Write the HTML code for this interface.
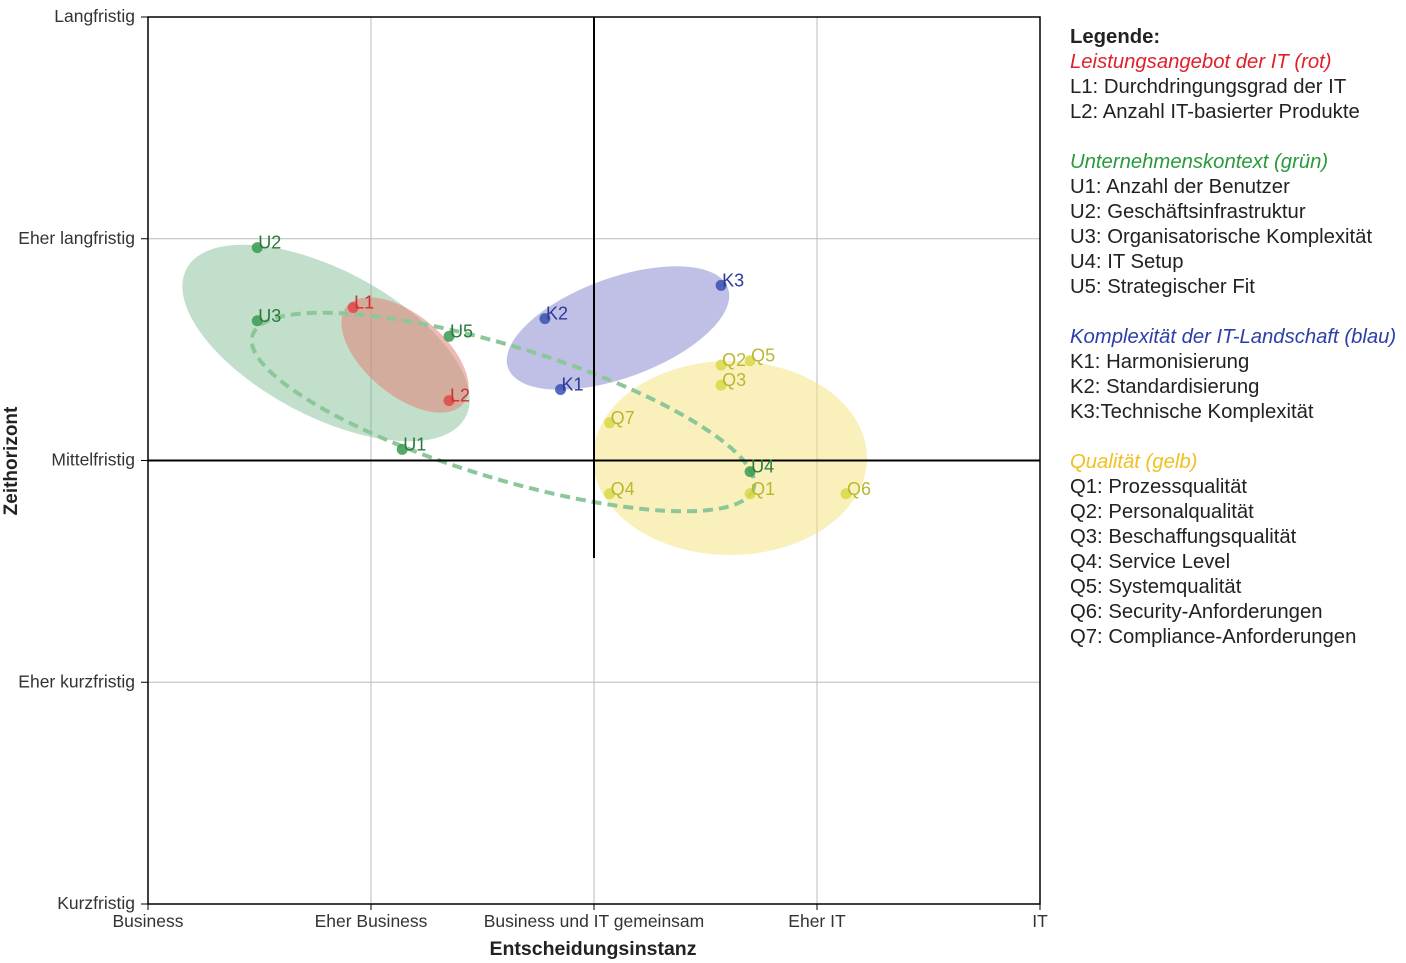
<!DOCTYPE html>
<html><head><meta charset="utf-8">
<style>
body{margin:0;background:#fff;width:1406px;height:963px;overflow:hidden;font-family:"Liberation Sans",sans-serif}
#legend{position:absolute;left:1070px;top:25px;font-size:20.3px;line-height:25px;color:#222}
#legend div{white-space:nowrap}
.gap{height:25px}
</style></head><body>
<svg id="chart" width="1406" height="963" style="position:absolute;left:0;top:0" font-family="Liberation Sans, sans-serif">
<g id="grid"></g>
<g id="shapes"></g>
<g id="axes"></g>
<g id="pts"></g>
</svg>
<div id="legend">
<div style="font-weight:bold">Legende:</div>
<div style="color:#e0202a;font-style:italic">Leistungsangebot der IT (rot)</div>
<div>L1: Durchdringungsgrad der IT</div>
<div>L2: Anzahl IT-basierter Produkte</div>
<div class="gap"></div>
<div style="color:#2a9a3a;font-style:italic">Unternehmenskontext (grün)</div>
<div>U1: Anzahl der Benutzer</div>
<div>U2: Geschäftsinfrastruktur</div>
<div>U3: Organisatorische Komplexität</div>
<div>U4: IT Setup</div>
<div>U5: Strategischer Fit</div>
<div class="gap"></div>
<div style="color:#2c3fa8;font-style:italic">Komplexität der IT-Landschaft (blau)</div>
<div>K1: Harmonisierung</div>
<div>K2: Standardisierung</div>
<div>K3:Technische Komplexität</div>
<div class="gap"></div>
<div style="color:#f0c020;font-style:italic">Qualität (gelb)</div>
<div>Q1: Prozessqualität</div>
<div>Q2: Personalqualität</div>
<div>Q3: Beschaffungsqualität</div>
<div>Q4: Service Level</div>
<div>Q5: Systemqualität</div>
<div>Q6: Security-Anforderungen</div>
<div>Q7: Compliance-Anforderungen</div>
</div>
<script>
const xTicks=["Business","Eher Business","Business und IT gemeinsam","Eher IT","IT"];
const yTicks=["Kurzfristig","Eher kurzfristig","Mittelfristig","Eher langfristig","Langfristig"];
const labels=["U2","U3","L1","U5","L2","U1","K2","K1","K3","Q2","Q5","Q3","Q7","U4","Q1","Q4","Q6"];
const xVals=[0.49,0.49,0.92,1.35,1.35,1.14,1.78,1.85,2.57,2.57,2.70,2.57,2.07,2.70,2.70,2.07,3.13];
const yVals=[2.96,2.63,2.69,2.56,2.27,2.05,2.64,2.32,2.79,2.43,2.45,2.34,2.17,1.95,1.85,1.85,1.85];
const X=v=>148+v*223, Y=v=>904-v*221.75;
const NS="http://www.w3.org/2000/svg";
function mk(p,t,a){const e=document.createElementNS(NS,t);for(const k in a)e.setAttribute(k,a[k]);p.appendChild(e);return e;}
const grid=document.getElementById('grid'),axes=document.getElementById('axes'),sh=document.getElementById('shapes'),pts=document.getElementById('pts');
xTicks.forEach((t,i)=>{
 const l=mk(grid,'line',{x1:X(i),x2:X(i),y1:17,y2:904,stroke:'#bbb','stroke-width':1});
 
 
 const tx=mk(axes,'text',{x:X(i),y:927,'text-anchor':'middle','font-size':17.5,fill:'#333'});tx.textContent=t;
 
 
 mk(axes,'line',{x1:X(i),x2:X(i),y1:904,y2:910,stroke:'#000'});
});
yTicks.forEach((t,i)=>{
 const l=mk(grid,'line',{x1:148,x2:1040,y1:Y(i),y2:Y(i),stroke:'#bbb','stroke-width':1});
 
 
 const tx=mk(axes,'text',{x:135,y:Y(i)+5,'text-anchor':'end','font-size':17.5,fill:'#333'});tx.textContent=t;
 
 
 mk(axes,'line',{x1:141,x2:148,y1:Y(i),y2:Y(i),stroke:'#000'});
});
function ell(cx,cy,rx,ry,rot,fill,name){const e=mk(sh,'ellipse',{cx,cy,rx,ry,transform:`rotate(${rot} ${cx} ${cy})`,fill});
 
 }
ell(326,343,158,73,28,'rgba(120,185,140,0.45)','green-cluster');
ell(405,355,76,40,40,'rgba(225,130,120,0.55)','red-cluster');
ell(618,328,117,50,-20,'rgba(130,130,205,0.5)','blue-cluster');
ell(730,458,137,97,0,'rgba(245,225,120,0.5)','yellow-cluster');
const d=mk(sh,'ellipse',{cx:503,cy:412,rx:262,ry:66,transform:'rotate(17 503 412)',fill:'none',stroke:'#8cc79a','stroke-width':4,'stroke-dasharray':'10 6'});


mk(axes,'rect',{x:148,y:17,width:892,height:887,fill:'none',stroke:'#000','stroke-width':1.5});
mk(axes,'line',{x1:X(2),x2:X(2),y1:17,y2:558,stroke:'#000','stroke-width':2});
mk(axes,'line',{x1:148,x2:1040,y1:Y(2),y2:Y(2),stroke:'#000','stroke-width':2});
let t=mk(axes,'text',{x:593,y:955,'text-anchor':'middle','font-size':19.5,'font-weight':'bold',fill:'#222'});t.textContent='Entscheidungsinstanz';

t=mk(axes,'text',{x:17,y:461,'text-anchor':'middle','font-size':19,'font-weight':'bold',fill:'#222',transform:'rotate(-90 17 461)'});t.textContent='Zeithorizont';

const col={L:['#e04848','#d03030'],U:['#3a9a50','#2a7a3a'],K:['#3a50b0','#2a3a9a'],Q:['#d8d848','#b8b830']};
labels.forEach((lb,i)=>{
 const c=col[lb[0]];
 const p=mk(pts,'circle',{cx:X(xVals[i]),cy:Y(yVals[i]),r:5.5,fill:c[0],opacity:0.85});
 
 
 const tx=mk(pts,'text',{x:X(xVals[i])+1,y:Y(yVals[i])+1,'font-size':18,fill:c[1]});tx.textContent=lb;
 
 
});
</script>
</body></html>
